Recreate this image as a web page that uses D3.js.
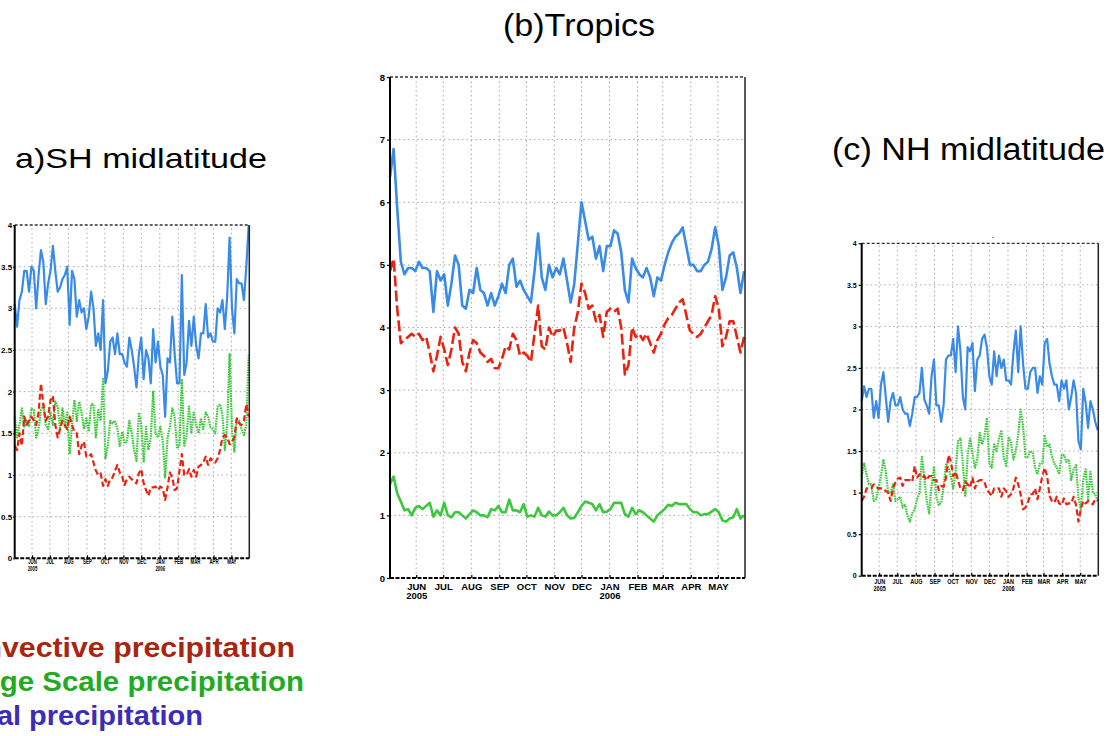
<!DOCTYPE html>
<html>
<head>
<meta charset="utf-8">
<script src="https://cdn.jsdelivr.net/npm/d3@7"></script>
<style>
  body { margin: 0; background: #fff; }
  svg { display: block; font-family: "Liberation Sans", Arial, sans-serif; }
</style>
</head>
<body>
<div id="graph"></div>
<script>
// time axis: one value every 4 days starting 3 May 2005
const startDate = new Date(2005, 4, 3);
const endDate = new Date(2006, 4, 31);
const dayStep = 4;
const monthTicks = d3.timeMonth.range(new Date(2005, 5, 1), new Date(2006, 5, 1));
const monthNames = ["JAN", "FEB", "MAR", "APR", "MAY", "JUN", "JUL", "AUG", "SEP", "OCT", "NOV", "DEC"];

// (a) SH midlatitude
const shConv = [1.35,1.3,1.5,1.35,1.7,1.6,1.65,1.7,1.65,1.6,
  1.75,2.1,1.85,1.65,1.7,1.9,1.95,1.6,1.45,1.55,
  1.65,1.6,1.55,1.7,1.6,1.52,1.5,1.25,1.35,1.4,
  1.22,1.22,1.25,1.15,1.05,1.0,1.02,0.87,0.95,0.87,
  0.95,0.97,1.05,1.12,1.03,0.98,0.88,0.95,0.98,0.95,
  0.92,0.9,1.02,1.07,0.9,0.82,0.75,0.85,0.85,0.86,
  0.82,0.86,0.84,0.7,0.85,1.03,0.97,0.82,0.84,1.05,
  1.25,1.0,1.0,1.07,0.98,1.06,0.98,1.1,1.12,1.15,
  1.22,1.12,1.2,1.17,1.15,1.2,1.3,1.45,1.48,1.45,
  1.37,1.4,1.45,1.68,1.62,1.6,1.65,1.85,1.7];
const shLarge = [1.7,1.45,1.6,1.8,1.58,1.65,1.58,1.8,1.78,1.45,
  1.55,1.78,1.85,1.6,1.55,1.75,1.6,1.88,1.82,1.55,
  1.8,1.58,1.75,1.25,1.6,1.9,1.65,1.88,1.75,1.55,
  1.68,1.52,1.85,1.85,1.45,1.78,1.65,2.15,1.2,1.35,
  1.65,1.62,1.65,1.55,1.35,1.52,1.38,1.4,1.65,1.5,
  1.3,1.17,1.75,1.6,1.15,1.58,1.3,1.45,2.0,1.5,
  1.45,1.58,1.4,0.97,1.45,1.58,1.8,1.7,1.32,1.35,
  2.15,1.35,1.48,1.82,1.5,1.75,1.6,1.5,1.68,1.55,
  1.75,1.7,1.57,1.55,1.5,1.82,1.85,1.73,1.3,1.62,
  2.45,1.55,1.28,1.68,1.65,1.55,1.48,1.6,2.45];
const shTotal = [3.05,2.78,3.1,3.2,3.45,3.45,3.2,3.5,3.45,3.0,
  3.4,3.7,3.55,3.05,3.3,3.45,3.75,3.45,3.2,3.25,
  3.35,3.4,3.5,2.8,3.45,3.35,2.9,3.1,2.95,3.0,
  2.75,2.9,3.2,3.0,2.55,2.7,2.5,3.1,2.1,2.25,
  2.6,2.65,2.45,2.7,2.45,2.45,2.35,2.3,2.65,2.5,
  2.3,2.05,2.45,2.65,2.15,2.5,2.4,2.1,2.75,2.35,
  2.6,2.3,2.2,1.7,2.4,2.35,2.9,2.45,2.1,2.1,
  3.4,2.2,2.35,2.85,2.55,2.9,2.55,2.4,2.7,2.7,
  3.05,2.65,2.7,2.6,2.6,3.0,2.95,3.1,2.75,3.15,
  3.85,3.0,2.7,3.35,3.3,3.3,3.1,3.5,4.0];

// (b) Tropics
const trConv = [4.9,5.1,4.3,3.75,3.8,3.85,3.9,3.85,3.9,3.8,
  3.85,3.6,3.3,3.55,3.85,3.65,3.4,3.65,4.0,3.9,
  3.45,3.3,3.6,3.8,3.75,3.6,3.55,3.45,3.5,3.35,
  3.35,3.5,3.7,3.65,3.9,3.8,3.55,3.6,3.55,3.45,
  3.9,4.35,3.7,3.65,4.0,3.85,3.95,3.95,4.0,3.75,
  3.45,4.0,4.25,4.7,4.55,4.3,4.35,4.1,4.2,3.85,
  4.25,4.3,4.25,4.3,4.0,3.25,3.4,4.0,3.85,3.9,
  3.8,3.9,3.75,3.6,3.8,3.9,4.05,4.15,4.2,4.3,
  4.4,4.45,4.2,3.95,3.9,3.85,3.9,4.0,4.1,4.2,
  4.5,4.3,3.7,3.85,4.1,4.1,3.85,3.6,3.85];
const trLarge = [1.5,1.62,1.35,1.22,1.08,1.1,1.0,1.12,1.15,1.1,
  1.15,1.2,0.98,1.08,1.0,1.2,1.0,0.97,1.05,1.05,
  1.0,0.95,1.02,1.08,1.05,1.0,1.0,0.97,1.1,1.08,
  1.15,1.05,1.05,1.25,1.08,1.08,1.05,1.18,0.98,1.0,
  0.98,1.12,1.0,0.98,1.06,1.0,1.0,1.05,1.12,1.0,
  0.95,0.96,1.05,1.15,1.22,1.2,1.18,1.08,1.18,1.05,
  1.06,1.1,1.2,1.2,1.2,1.02,0.98,1.12,1.02,1.08,
  1.05,1.0,0.95,0.9,1.0,1.05,1.1,1.17,1.15,1.2,
  1.18,1.18,1.18,1.1,1.05,1.05,1.0,1.02,1.02,1.06,
  1.1,1.05,0.92,0.9,0.95,0.97,1.1,0.95,1.0];
const trTotal = [6.4,6.85,5.9,5.05,4.85,4.95,4.95,4.9,5.05,4.95,
  4.95,4.9,4.25,4.9,4.75,4.85,4.35,4.7,5.15,5.0,
  4.35,4.3,4.6,4.55,4.95,4.6,4.55,4.35,4.55,4.35,
  4.5,4.7,4.55,5.0,5.1,4.65,4.75,4.6,4.5,4.4,
  4.9,5.5,4.8,4.6,5.0,4.8,4.95,4.85,5.1,4.75,
  4.4,4.7,5.35,6.0,5.7,5.4,5.45,5.1,5.3,4.9,
  5.3,5.3,5.55,5.5,5.2,4.6,4.4,5.1,4.95,4.85,
  4.8,4.95,4.8,4.5,4.8,4.75,5.0,5.2,5.35,5.45,
  5.5,5.6,5.3,5.0,5.0,4.9,4.9,5.0,5.05,5.25,
  5.6,5.3,4.6,4.8,5.15,5.2,4.95,4.55,4.9];

// (c) NH midlatitude
const nhConv = [0.9,0.95,1.05,1.05,1.05,1.1,1.07,1.05,1.05,1.05,
  1.02,1.0,0.9,1.05,1.12,1.17,1.18,1.08,1.15,1.15,
  1.15,1.13,1.32,1.18,1.22,1.18,1.2,1.15,1.2,1.2,
  1.15,1.15,1.03,1.08,1.07,1.18,1.45,1.38,1.2,1.25,
  1.15,1.05,1.03,1.13,1.1,1.06,1.18,1.05,1.13,1.15,
  1.15,1.13,1.03,1.0,0.96,1.05,1.05,1.05,0.95,1.05,
  1.02,0.95,0.98,1.05,1.18,1.1,0.98,0.8,0.82,0.88,
  0.98,0.98,1.05,0.92,1.05,1.2,1.3,1.2,0.96,0.9,
  0.88,0.95,0.87,0.85,0.93,0.86,0.87,0.87,0.95,0.85,
  0.65,0.8,0.9,0.87,0.9,0.88,0.86,0.92,0.9];
const nhLarge = [1.2,1.35,1.22,1.1,1.1,0.9,0.92,1.05,1.2,1.4,
  1.25,1.0,1.0,1.1,0.9,0.92,0.95,0.82,0.85,0.72,
  0.65,0.75,0.8,0.92,1.0,1.43,1.18,0.9,0.75,1.08,
  1.3,0.95,0.85,0.88,1.07,1.35,1.3,1.2,1.05,1.25,
  1.62,1.65,1.35,0.95,1.45,1.65,1.48,1.3,1.4,1.72,
  1.58,1.68,1.9,1.35,1.3,1.58,1.5,1.65,1.75,1.42,
  1.32,1.67,1.6,1.4,1.5,1.7,2.0,1.8,1.43,1.43,
  1.5,1.48,1.3,1.22,1.35,1.35,1.68,1.55,1.58,1.43,
  1.35,1.3,1.22,1.45,1.45,1.37,1.4,1.15,1.28,1.33,
  0.93,0.8,1.15,1.28,0.92,1.25,1.0,0.98,0.9];
const nhTotal = [2.1,2.28,2.15,2.25,2.25,1.9,2.1,1.9,2.3,2.45,
  2.15,1.85,2.1,2.2,2.05,2.05,2.15,2.0,1.95,1.95,
  1.8,1.95,2.15,2.15,2.2,2.5,2.12,2.05,1.95,2.4,
  2.6,2.05,2.05,1.85,2.05,2.6,2.65,2.65,2.85,2.45,
  3.0,2.7,2.15,2.0,2.75,2.7,2.8,2.22,2.6,2.65,
  2.85,2.9,2.75,2.4,2.3,2.7,2.4,2.65,2.5,2.6,
  2.35,2.35,2.3,2.68,2.95,2.45,3.0,2.55,2.25,2.25,
  2.45,2.5,2.5,2.2,2.4,2.3,2.8,2.85,2.55,2.4,
  2.3,2.3,2.1,2.35,2.25,2.35,2.0,2.15,2.35,2.2,
  1.62,1.52,2.25,2.08,1.78,2.1,2.0,1.85,1.75];

const legendLabels = ["Convective precipitation", "Large Scale precipitation", "Total precipitation"];

const colors = { conv: "#e8230f", large: "#3cc83c", total: "#3a8be8" };

const W = 1117, H = 736;
const svg = d3.select("#graph").append("svg")
  .attr("width", W)
  .attr("height", H);

// panel boxes (pixel frames of each plot)
const panels = [
  { title: "a)SH midlatitude", tx: 15, ty: 168, tsize: 28, tlen: 252,
    box: { l: 14.7, t: 225, r: 249.3, b: 558.3 }, yMax: 4, yTicks: d3.range(0, 4.01, 0.5),
    yFont: 8, tick: 1.5, pad: 1, xFont: 7, xScaleText: 0.62, lw: 2.2, dashConv: "6,3", dashLarge: "1.6,0.9",
    conv: shConv, large: shLarge, total: shTotal, labY: 6, yearY: 13 },
  { title: "(b)Tropics", tx: 503, ty: 36, tsize: 32, tlen: 152,
    box: { l: 390, t: 77, r: 745, b: 578 }, yMax: 8, yTicks: d3.range(0, 9, 1),
    yFont: 9.5, tick: 3, pad: 2, xFont: 9.5, xScaleText: 1, lw: 2.6, dashConv: "11,4", dashLarge: null,
    conv: trConv, large: trLarge, total: trTotal, labY: 12, yearY: 21 },
  { title: "(c) NH midlatitude", tx: 832, ty: 160, tsize: 31, tlen: 273,
    box: { l: 861.7, t: 243.3, r: 1098.3, b: 575.7 }, yMax: 4, yTicks: d3.range(0, 4.01, 0.5),
    yFont: 7, tick: 3, pad: 2, xFont: 6.5, xScaleText: 0.85, lw: 2.2, dashConv: "6,3", dashLarge: "1.6,0.9",
    conv: nhConv, large: nhLarge, total: nhTotal, labY: 8, yearY: 15 }
];

panels.forEach(p => {
  const bx = p.box;
  const x = d3.scaleTime().domain([startDate, endDate]).range([bx.l, bx.r]);
  const y = d3.scaleLinear().domain([0, p.yMax]).range([bx.b, bx.t]);
  const g = svg.append("g");

  // title
  svg.append("text")
    .attr("x", p.tx)
    .attr("y", p.ty)
    .attr("font-size", p.tsize)
    .attr("textLength", p.tlen)
    .attr("lengthAdjust", "spacingAndGlyphs")
    .attr("fill", "#000")
    .text(p.title);

  // dotted grid
  g.selectAll(".vgrid")
    .data(monthTicks)
    .join("line")
    .attr("x1", d => x(d)).attr("x2", d => x(d))
    .attr("y1", bx.b).attr("y2", bx.t)
    .attr("stroke", "#a8a8a8")
    .attr("stroke-width", 1)
    .attr("stroke-dasharray", "1.5,3");
  g.selectAll(".hgrid")
    .data(p.yTicks.filter(v => v > 0 && v < p.yMax))
    .join("line")
    .attr("x1", bx.l).attr("x2", bx.r)
    .attr("y1", d => y(d)).attr("y2", d => y(d))
    .attr("stroke", "#a8a8a8")
    .attr("stroke-width", 1)
    .attr("stroke-dasharray", "1.5,3");

  // series lines
  const line = d3.line()
    .x((d, i) => x(d3.timeDay.offset(startDate, i * dayStep)))
    .y(d => y(d));

  g.append("path")
    .datum(p.large)
    .attr("fill", "none")
    .attr("stroke", colors.large)
    .attr("stroke-width", p.lw)
    .attr("stroke-dasharray", p.dashLarge)
    .attr("stroke-linejoin", "round")
    .attr("d", line);
  g.append("path")
    .datum(p.conv)
    .attr("fill", "none")
    .attr("stroke", colors.conv)
    .attr("stroke-width", p.lw)
    .attr("stroke-dasharray", p.dashConv)
    .attr("stroke-linejoin", "round")
    .attr("d", line);
  g.append("path")
    .datum(p.total)
    .attr("fill", "none")
    .attr("stroke", colors.total)
    .attr("stroke-width", p.lw)
    .attr("stroke-linejoin", "round")
    .attr("d", line);

  // frame: solid left/right, dashed top, dashed-looking bottom
  g.append("line")
    .attr("x1", bx.l).attr("x2", bx.r).attr("y1", bx.t).attr("y2", bx.t)
    .attr("stroke", "#333").attr("stroke-width", 1.3).attr("stroke-dasharray", "3,2");
  g.append("line")
    .attr("x1", bx.r).attr("x2", bx.r).attr("y1", bx.t).attr("y2", bx.b)
    .attr("stroke", "#222").attr("stroke-width", 1.5);
  g.append("line")
    .attr("x1", bx.l).attr("x2", bx.r).attr("y1", bx.b).attr("y2", bx.b)
    .attr("stroke", "#000").attr("stroke-width", 2).attr("stroke-dasharray", "4,1.5");
  g.append("line")
    .attr("x1", bx.l).attr("x2", bx.l).attr("y1", bx.t).attr("y2", bx.b)
    .attr("stroke", "#000").attr("stroke-width", 2);

  // y axis
  const gy = g.append("g")
    .attr("transform", `translate(${bx.l},0)`)
    .call(d3.axisLeft(y).tickValues(p.yTicks).tickSize(p.tick).tickPadding(p.pad).tickFormat(d3.format("~g")));
  gy.select(".domain").remove();
  gy.selectAll("line").attr("stroke", "#000").attr("stroke-width", 1.2);
  gy.selectAll("text")
    .attr("font-family", "'Liberation Sans', Arial, sans-serif")
    .attr("font-weight", "bold")
    .attr("font-size", p.yFont)
    .attr("fill", "#000");

  // x axis: month labels with the year under JUN 2005 and JAN 2006
  const gx = g.append("g")
    .attr("transform", `translate(0,${bx.b})`)
    .call(d3.axisBottom(x).tickValues(monthTicks).tickSize(-3).tickFormat(""));
  gx.select(".domain").remove();
  gx.selectAll("line").attr("stroke", "#000").attr("stroke-width", 1.2);
  gx.selectAll(".tick").append("text")
    .attr("y", p.labY)
    .attr("transform", `scale(${p.xScaleText},1)`)
    .attr("text-anchor", "middle")
    .attr("font-family", "'Liberation Sans', Arial, sans-serif")
    .attr("font-weight", "bold")
    .attr("font-size", p.xFont)
    .attr("fill", "#000")
    .text(d => monthNames[d.getMonth()]);
  gx.selectAll(".tick")
    .filter((d, i) => i === 0 || d.getMonth() === 0)
    .append("text")
    .attr("y", p.yearY)
    .attr("transform", `scale(${p.xScaleText},1)`)
    .attr("text-anchor", "middle")
    .attr("font-family", "'Liberation Sans', Arial, sans-serif")
    .attr("font-weight", "bold")
    .attr("font-size", p.xFont)
    .attr("fill", "#000")
    .text(d => d.getFullYear());
});

// small leftover mark above panel (c)
svg.append("text")
  .attr("x", 993).attr("y", 239)
  .attr("text-anchor", "middle")
  .attr("font-size", 7)
  .text("-");

// legend text, partly cut off at the left edge as in the original figure
const legendColors = ["#a8260f", "#22aa22", "#3b2db5"];
const legendX = [-57, -46, -46];
const legendLen = [352, 350, 249];
const legendBase = [657, 691, 725];
svg.selectAll(".legend")
  .data(legendLabels)
  .join("text")
  .attr("class", "legend")
  .attr("x", (d, i) => legendX[i])
  .attr("y", (d, i) => legendBase[i])
  .attr("font-size", 28)
  .attr("font-weight", "bold")
  .attr("textLength", (d, i) => legendLen[i])
  .attr("lengthAdjust", "spacingAndGlyphs")
  .attr("fill", (d, i) => legendColors[i])
  .text(d => d);
</script>
</body>
</html>
